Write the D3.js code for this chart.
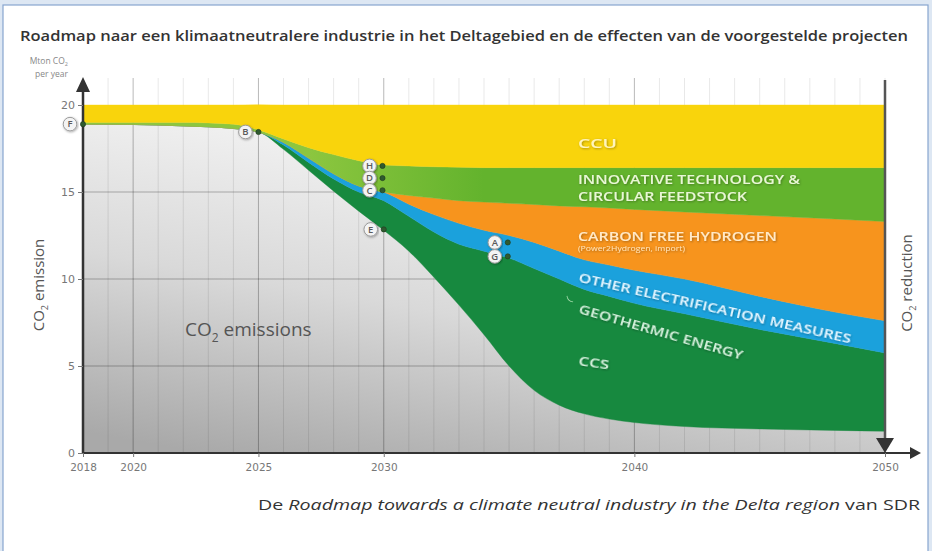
<!DOCTYPE html>
<html>
<head>
<meta charset="utf-8">
<script src="https://cdn.jsdelivr.net/npm/d3@7"></script>
<style>
  html, body { margin: 0; padding: 0; background: #dde7f3; }
  svg { display: block; }
</style>
</head>
<body>
<svg id="chart" width="932" height="551"></svg>
<script>
// ---------------- DATA ----------------
const years = [2018, 2020, 2022, 2024, 2025, 2026, 2027, 2028, 2029, 2030, 2031, 2032, 2033, 2034, 2035, 2036, 2037, 2038, 2039, 2040, 2042, 2045, 2048, 2050];
// remaining CO2 emissions (Mton/yr)
const emissions       = [18.9, 18.88, 18.8, 18.65, 18.45, 17.45, 16.25, 15.05, 13.9, 12.8, 11.6, 10.1, 8.5, 6.8, 5.0, 3.6, 2.75, 2.25, 1.95, 1.75, 1.52, 1.38, 1.3, 1.25];
// reductions (stack thickness, Mton/yr)
const ccs             = [0, 0, 0, 0, 0, 0.25, 0.45, 0.7, 1.1, 1.7, 2.0, 2.6, 3.5, 4.8, 6.2, 7.0, 7.25, 7.15, 7.05, 6.85, 6.48, 5.72, 5.0, 4.5];
const electrification = [0, 0, 0, 0, 0, 0.15, 0.25, 0.3, 0.35, 0.5, 0.7, 1.0, 1.2, 1.2, 1.3, 1.5, 1.6, 1.7, 1.8, 1.9, 2.0, 1.9, 1.8, 1.85];
const hydrogen        = [0, 0, 0, 0, 0, 0, 0, 0, 0, 0, 0.5, 0.95, 1.3, 1.62, 1.85, 2.18, 2.6, 3.05, 3.28, 3.5, 3.85, 4.65, 5.35, 5.7];
const innovative      = [0.1, 0.12, 0.2, 0.25, 0.12, 0.2, 0.6, 1.1, 1.45, 1.55, 1.7, 1.8, 1.92, 1.98, 2.05, 2.12, 2.2, 2.25, 2.32, 2.4, 2.55, 2.75, 2.95, 3.1];
const ccu             = [1.0, 1.0, 1.0, 1.1, 1.45, 1.95, 2.45, 2.85, 3.2, 3.45, 3.5, 3.55, 3.58, 3.6, 3.6, 3.6, 3.6, 3.6, 3.6, 3.6, 3.6, 3.6, 3.6, 3.6];

const seriesKeys   = ["emissions", "ccs", "electrification", "hydrogen", "innovative", "ccu"];
const xTickValues  = [2018, 2020, 2025, 2030, 2040, 2050];
const yTickValues  = [0, 5, 10, 15, 20];
const majorGridYears = [2020, 2025, 2030, 2040];

const markerLetters = ["F", "B", "H", "D", "C", "E", "A", "G"];
const markerYears   = [2018, 2025, 2029.95, 2029.95, 2029.95, 2030, 2034.95, 2034.95];
const markerValues  = [18.9, 18.45, 16.5, 15.8, 15.1, 12.85, 12.1, 11.3];

const titleText   = "Roadmap naar een klimaatneutralere industrie in het Deltagebied en de effecten van de voorgestelde projecten";

// ---------------- SETUP ----------------
const svg = d3.select("#chart");
const W = 932, H = 551;
const x = d3.scaleLinear().domain([2018, 2050]).range([83, 885]);
const y = d3.scaleLinear().domain([0, 20]).range([453, 105]);

const defs = svg.append("defs");
const bg = defs.append("linearGradient").attr("id", "bgGrad")
  .attr("x1", "0.15").attr("y1", "1").attr("x2", "0.55").attr("y2", "0");
bg.append("stop").attr("offset", "0").attr("stop-color", "#a9a9a9");
bg.append("stop").attr("offset", "0.45").attr("stop-color", "#d9d9d9");
bg.append("stop").attr("offset", "1").attr("stop-color", "#fbfbfb");

const gInn = defs.append("linearGradient").attr("id", "innGrad")
  .attr("gradientUnits", "userSpaceOnUse")
  .attr("x1", x(2027)).attr("y1", 0).attr("x2", x(2034)).attr("y2", 0);
gInn.append("stop").attr("offset", "0").attr("stop-color", "#8cc63f");
gInn.append("stop").attr("offset", "1").attr("stop-color", "#63b32d");

const shadow = defs.append("filter").attr("id", "shadow").attr("x", "-10%").attr("y", "-30%").attr("width", "120%").attr("height", "160%");
shadow.append("feDropShadow").attr("dx", 0.8).attr("dy", 0.8).attr("stdDeviation", 0.8).attr("flood-color", "#000").attr("flood-opacity", 0.35);

// frame
svg.append("rect").attr("width", W).attr("height", H).attr("fill", "#dde7f3");
svg.append("rect").attr("x", 3).attr("y", 5).attr("width", 925).attr("height", 560)
  .attr("fill", "#ffffff").attr("stroke", "#87a5cf").attr("stroke-width", 1.2);

// title
svg.append("text").attr("x", 20).attr("y", 41).text(titleText)
  .attr("font-family", "'Open Sans', 'DejaVu Sans', sans-serif").attr("font-size", 14.5)
  .attr("font-weight", 600).attr("fill", "#333").attr("textLength", 888).attr("lengthAdjust", "spacingAndGlyphs");

// unit label
const unit = svg.append("text").attr("x", 68).attr("y", 64).attr("text-anchor", "end")
  .attr("font-family", "'Open Sans', sans-serif").attr("font-size", 8.5).attr("fill", "#888");
unit.append("tspan").text("Mton CO");
unit.append("tspan").text("2").attr("font-size", 5.5).attr("dy", 2);
svg.append("text").attr("x", 68).attr("y", 77).attr("text-anchor", "end")
  .attr("font-family", "'Open Sans', sans-serif").attr("font-size", 8.5).attr("fill", "#888").text("per year");

// plot background
svg.append("rect").attr("x", x(2018)).attr("y", y(20)).attr("width", x(2050) - x(2018)).attr("height", y(0) - y(20))
  .attr("fill", "url(#bgGrad)");

// vertical grid (every year), extending above plot
const allYears = d3.range(2018, 2051);
svg.append("g").selectAll("line").data(allYears).join("line")
  .attr("x1", d => x(d)).attr("x2", d => x(d))
  .attr("y1", 78).attr("y2", y(0))
  .attr("stroke", d => majorGridYears.includes(d) ? "rgba(0,0,0,0.28)" : "rgba(0,0,0,0.09)")
  .attr("stroke-width", 1);

// horizontal grid
svg.append("g").selectAll("line").data([5, 10, 15]).join("line")
  .attr("x1", x(2018)).attr("x2", x(2050)).attr("y1", d => y(d)).attr("y2", d => y(d))
  .attr("stroke", "rgba(0,0,0,0.28)").attr("stroke-width", 1);

// stacked areas
const table = years.map((yr, i) => ({
  year: yr, emissions: emissions[i], ccs: ccs[i], electrification: electrification[i],
  hydrogen: hydrogen[i], innovative: innovative[i], ccu: ccu[i]
}));
const stack = d3.stack().keys(seriesKeys);
const layers = stack(table);
const colors = {
  emissions: "none", ccs: "#17893f", electrification: "#1ba1dc",
  hydrogen: "#f7941d", innovative: "url(#innGrad)", ccu: "#f9d40c"
};
const area = d3.area()
  .x(d => x(d.data.year)).y0(d => y(d[0])).y1(d => y(d[1]))
  .curve(d3.curveMonotoneX);
svg.append("g").selectAll("path").data(layers.filter(l => l.key !== "emissions")).join("path")
  .attr("d", area).attr("fill", d => colors[d.key]).attr("stroke", d => colors[d.key]).attr("stroke-width", 0.4);

// in-plot labels
function label(txt, yr, val, opts) {
  const t = svg.append("text")
    .attr("transform", `translate(${x(yr)},${y(val)}) rotate(${opts.rot || 0})`)
    .attr("font-family", "'Open Sans', 'DejaVu Sans', sans-serif")
    .attr("font-size", opts.size).attr("font-weight", opts.weight || 600)
    .attr("fill", opts.fill).attr("filter", "url(#shadow)")
    .text(txt);
  if (opts.len) t.attr("textLength", opts.len).attr("lengthAdjust", "spacingAndGlyphs");
  return t;
}
label("CCU", 2037.75, 17.53, { size: 13, fill: "#fff4bd", len: 39 });
label("INNOVATIVE TECHNOLOGY &", 2037.75, 15.46, { size: 12, fill: "#e9f6d6", len: 222 });
label("CIRCULAR FEEDSTOCK", 2037.75, 14.48, { size: 12, fill: "#e9f6d6", len: 169 });
label("CARBON FREE HYDROGEN", 2037.75, 12.18, { size: 12.5, fill: "#ffe9c8", len: 199 });
label("(Power2Hydrogen, import)", 2037.75, 11.6, { size: 7.5, weight: 400, fill: "#ffe2b8", len: 107 });
label("OTHER ELECTRIFICATION MEASURES", 2037.75, 9.85, { size: 12.5, fill: "#e6f6ff", len: 279, rot: 12.8 });
label("GEOTHERMIC ENERGY", 2037.75, 8.05, { size: 12.5, fill: "#d6f0dd", len: 170, rot: 16 });
label("CCS", 2037.75, 5.05, { size: 13, fill: "#d6f0dd", len: 31, rot: 8 });

// small arc near geothermic label
svg.append("path")
  .attr("d", d3.arc()({ innerRadius: 7, outerRadius: 7.8, startAngle: -Math.PI * 0.95, endAngle: -Math.PI * 0.55 }))
  .attr("transform", `translate(${x(2037.6)},${y(9.1)})`)
  .attr("fill", "#9ed8a6");

// CO2 emissions label
const em = svg.append("text").attr("x", x(2022.07)).attr("y", y(6.72))
  .attr("font-family", "'Open Sans', sans-serif").attr("font-size", 19).attr("fill", "#555");
em.append("tspan").text("CO");
em.append("tspan").text("2").attr("font-size", 12).attr("dy", 6);
em.append("tspan").text(" emissions").attr("dy", -6);

// axes lines + arrows
svg.append("line").attr("x1", x(2018)).attr("x2", 913).attr("y1", y(0)).attr("y2", y(0))
  .attr("stroke", "#333").attr("stroke-width", 2);
svg.append("path").attr("d", `M${921},${y(0)} L${910},${y(0) - 6} L${910},${y(0) + 6} Z`).attr("fill", "#333");

svg.append("line").attr("x1", x(2018)).attr("x2", x(2018)).attr("y1", y(0)).attr("y2", 88)
  .attr("stroke", "#333").attr("stroke-width", 2.5);
svg.append("path").attr("d", `M${x(2018)},77 L${x(2018) - 7},92 L${x(2018) + 7},92 Z`).attr("fill", "#333");

svg.append("line").attr("x1", x(2050)).attr("x2", x(2050)).attr("y1", 80).attr("y2", 440)
  .attr("stroke", "#555").attr("stroke-width", 2.5);
svg.append("path").attr("d", `M${x(2050)},${y(0)} L${x(2050) - 9},438 L${x(2050) + 9},438 Z`).attr("fill", "#333");

// tick axes
const xAxis = d3.axisBottom(x).tickValues(xTickValues).tickSize(4).tickFormat(d3.format("d"));
const gx = svg.append("g").attr("transform", `translate(0,${y(0)})`).call(xAxis);
gx.select(".domain").remove();
gx.selectAll("line").attr("stroke", "#777");
gx.selectAll("text").attr("font-family", "'Liberation Sans Narrow', 'DejaVu Sans', sans-serif")
  .attr("font-size", 10.5).attr("fill", "#777").attr("dy", "1.0em");

const yAxis = d3.axisLeft(y).tickValues(yTickValues).tickSize(5);
const gy = svg.append("g").attr("transform", `translate(${x(2018)},0)`).call(yAxis);
gy.select(".domain").remove();
gy.selectAll("line").attr("stroke", "#777");
gy.selectAll("text").attr("font-family", "'Liberation Sans Narrow', 'DejaVu Sans', sans-serif")
  .attr("font-size", 11).attr("fill", "#777").attr("x", -8);

// axis titles
const yt = svg.append("text").attr("transform", `translate(44,285) rotate(-90)`)
  .attr("text-anchor", "middle").attr("font-family", "'Open Sans', sans-serif")
  .attr("font-size", 15).attr("fill", "#555");
yt.append("tspan").text("CO");
yt.append("tspan").text("2").attr("font-size", 9).attr("dy", 4);
yt.append("tspan").text(" emission").attr("dy", -4);

const rt = svg.append("text").attr("transform", `translate(912,283) rotate(-90)`)
  .attr("text-anchor", "middle").attr("font-family", "'Open Sans', sans-serif")
  .attr("font-size", 15).attr("fill", "#555");
rt.append("tspan").text("CO");
rt.append("tspan").text("2").attr("font-size", 9).attr("dy", 4);
rt.append("tspan").text(" reduction").attr("dy", -4);

// markers
const markers = markerLetters.map((l, i) => ({ l, yr: markerYears[i], v: markerValues[i] }));
const mg = svg.append("g").selectAll("g").data(markers).join("g")
  .attr("transform", d => `translate(${x(d.yr)},${y(d.v)})`);
mg.append("circle").attr("r", 2.6).attr("fill", "#2f5a2f").attr("stroke", "#1e3b1e").attr("stroke-width", 0.6);
mg.append("circle").attr("cx", -13).attr("r", 6.8).attr("fill", "#f4f4f4")
  .attr("stroke", "#9a9a9a").attr("stroke-width", 1).attr("filter", "url(#shadow)");
mg.append("text").attr("x", -13).attr("y", 3.3).attr("text-anchor", "middle")
  .attr("font-family", "'Open Sans', sans-serif").attr("font-size", 9.5).attr("font-weight", 600)
  .attr("fill", "#5a5a5a").text(d => d.l);

// caption
const cap = svg.append("text").attr("x", 920).attr("y", 510).attr("text-anchor", "end")
  .attr("font-family", "'Open Sans', sans-serif").attr("font-size", 15).attr("fill", "#333")
  .attr("textLength", 662).attr("lengthAdjust", "spacingAndGlyphs");
cap.append("tspan").text("De ");
cap.append("tspan").text("Roadmap towards a climate neutral industry in the Delta region").attr("font-style", "italic");
cap.append("tspan").text(" van SDR");
</script>
</body>
</html>
